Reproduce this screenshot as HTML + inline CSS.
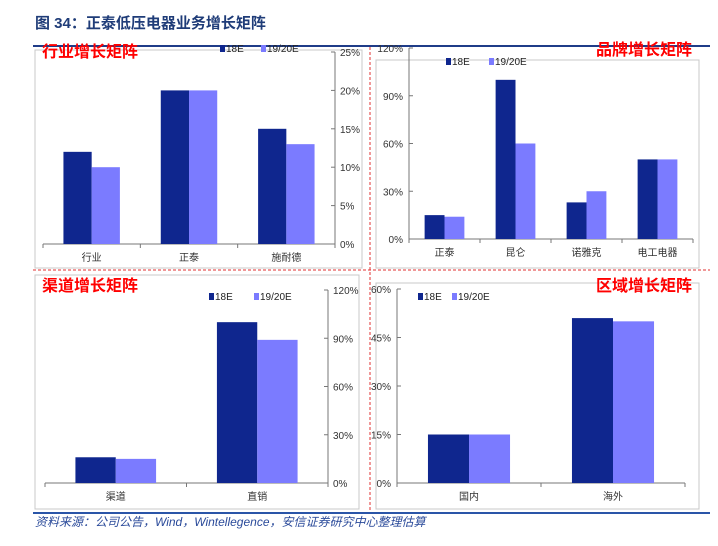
<!DOCTYPE html>
<html><head><meta charset="utf-8">
<style>
body{margin:0;background:#fff;width:718px;height:541px;overflow:hidden;font-family:"Liberation Sans","Noto Sans CJK SC",sans-serif;}
svg text{font-family:"Liberation Sans","Noto Sans CJK SC",sans-serif;}
</style></head>
<body>
<svg id="chart" width="718" height="541" viewBox="0 0 718 541" xmlns="http://www.w3.org/2000/svg">
<text x="35" y="28" font-size="15" font-weight="bold" fill="#1f3c78">图 34：正泰低压电器业务增长矩阵</text>
<line x1="33" y1="46" x2="710" y2="46" stroke="#1f3c88" stroke-width="2"/>
<line x1="33" y1="513" x2="710" y2="513" stroke="#2a55a8" stroke-width="2"/>
<line x1="370" y1="47" x2="370" y2="512" stroke="#e03030" stroke-width="1" stroke-dasharray="3,2"/>
<line x1="33" y1="270" x2="710" y2="270" stroke="#e03030" stroke-width="1" stroke-dasharray="3,2"/>
<rect x="35" y="50" width="327" height="218" fill="none" stroke="#c8c8c8"/>
<rect x="376" y="60" width="323" height="208" fill="none" stroke="#c8c8c8"/>
<rect x="35" y="275" width="324" height="234" fill="none" stroke="#c8c8c8"/>
<rect x="376" y="283" width="323" height="226" fill="none" stroke="#c8c8c8"/>
<text x="35" y="526" font-size="12" font-style="italic" fill="#2a4a9a">资料来源：公司公告，Wind，Wintellegence，安信证券研究中心整理估算</text>
<g id="charts"></g>
</svg>
<script>
// Industry panel
const indCats = ["行业","正泰","施耐德"];
const ind18 = [12,20,15];
const ind19 = [10,20,13];
const indTicks = ["0%","5%","10%","15%","20%","25%"];
// Brand panel
const brCats = ["正泰","昆仑","诺雅克","电工电器"];
const br18 = [15,100,23,50];
const br19 = [14,60,30,50];
const brTicks = ["0%","30%","60%","90%","120%"];
// Channel panel
const chCats = ["渠道","直销"];
const ch18 = [16,100];
const ch19 = [15,89];
const chTicks = ["0%","30%","60%","90%","120%"];
// Region panel
const rgCats = ["国内","海外"];
const rg18 = [15,51];
const rg19 = [15,50];
const rgTicks = ["0%","15%","30%","45%","60%"];

const NS="http://www.w3.org/2000/svg";
const root=document.getElementById('charts');
function mk(tag,attrs){const e=document.createElementNS(NS,tag);for(const k in attrs)e.setAttribute(k,attrs[k]);root.appendChild(e);return e;}

function draw(p){
  const max=parseFloat(p.ticks[p.ticks.length-1]);
  const y=v=>p.y0-(v/max)*(p.y0-p.y1);
  const n=p.cats.length, bw=(p.x1-p.x0)/n;
  const axisX=p.axisRight?p.x1:p.x0;
  const base=mk('line',{x1:p.x0,y1:p.y0,x2:p.x1,y2:p.y0,stroke:'#777'});
  
  
  const ax=mk('line',{x1:axisX,y1:p.y0,x2:axisX,y2:p.y1,stroke:'#777'});
  
  
  p.ticks.forEach((t,i)=>{
    const v=parseFloat(t), yy=y(v);
    const tk=mk('line',{x1:axisX,y1:yy,x2:p.axisRight?axisX-4:axisX+4,y2:yy,stroke:'#777'});
    
    
    const tx=mk('text',{x:p.axisRight?axisX+5:axisX-6,y:yy+4,'font-size':10,fill:'#333','text-anchor':p.axisRight?'start':'end'});
    tx.textContent=t;
    
    
  });
  for(let i=0;i<=n;i++){
    const tk=mk('line',{x1:p.x0+i*bw,y1:p.y0,x2:p.x0+i*bw,y2:p.y0+4,stroke:'#777'});
    
    
  }
  p.cats.forEach((c,i)=>{
    const cx=p.x0+(i+0.5)*bw, w=bw*p.frac;
    const b1=mk('rect',{x:cx-w,y:y(p.s1[i]),width:w,height:p.y0-y(p.s1[i]),fill:'#0f268e'});
    
    
    const b2=mk('rect',{x:cx,y:y(p.s2[i]),width:w,height:p.y0-y(p.s2[i]),fill:'#7b7bff'});
    
    
    const l=mk('text',{x:cx,y:p.y0+17,'font-size':10,fill:'#333','text-anchor':'middle'});
    l.textContent=c;
    
    
  });
  const s1=mk('rect',{x:p.lx,y:p.ly-7,width:5,height:7,fill:'#0f268e'});
  
  
  const t1=mk('text',{x:p.lx+6,y:p.ly,'font-size':10,fill:'#222'});t1.textContent='18E';
  
  
  const s2=mk('rect',{x:p.lx2,y:p.ly-7,width:5,height:7,fill:'#7b7bff'});
  
  
  const t2=mk('text',{x:p.lx2+6,y:p.ly,'font-size':10,fill:'#222'});t2.textContent='19/20E';
  
  
  const tt=mk('text',{x:p.tx,y:p.ty,'font-size':16,'font-weight':'bold',fill:'#f00','text-anchor':p.tanchor,'font-family':'"Noto Serif CJK SC",serif'});
  tt.textContent=p.title;
  
  
}
draw({id:'industry',cats:indCats,s1:ind18,s2:ind19,ticks:indTicks,x0:43,x1:335,y0:244,y1:52,axisRight:true,frac:0.29,lx:220,lx2:261,ly:52,title:'行业增长矩阵',tx:42,ty:57,tanchor:'start'});
draw({id:'brand',cats:brCats,s1:br18,s2:br19,ticks:brTicks,x0:409,x1:693,y0:239,y1:48,axisRight:false,frac:0.28,lx:446,lx2:489,ly:65,title:'品牌增长矩阵',tx:692,ty:55,tanchor:'end'});
draw({id:'channel',cats:chCats,s1:ch18,s2:ch19,ticks:chTicks,x0:45,x1:328,y0:483,y1:290,axisRight:true,frac:0.285,lx:209,lx2:254,ly:300,title:'渠道增长矩阵',tx:42,ty:291,tanchor:'start'});
draw({id:'region',cats:rgCats,s1:rg18,s2:rg19,ticks:rgTicks,x0:397,x1:685,y0:483,y1:289,axisRight:false,frac:0.285,lx:418,lx2:452,ly:300,title:'区域增长矩阵',tx:692,ty:291,tanchor:'end'});
</script>
</body></html>
